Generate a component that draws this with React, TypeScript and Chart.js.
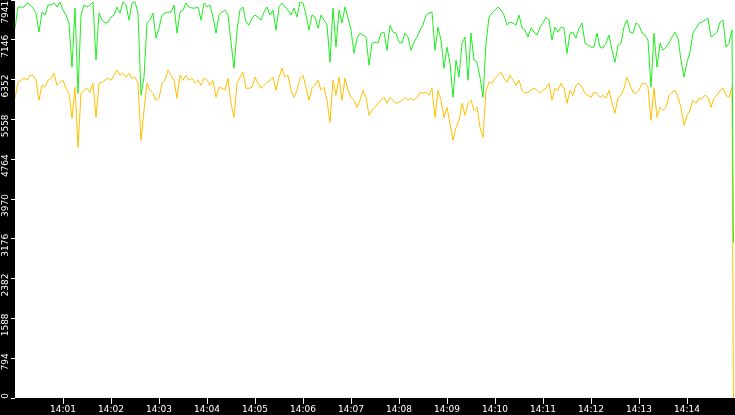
import React, { useEffect, useRef } from "react";
import { Chart, registerables } from "chart.js";

Chart.register(...registerables);

// Sampling grid (seconds after 14:00:00)
const sampleStepSeconds = 3.75;
const finalSampleSeconds = 898;

const xTickSeconds = [60, 120, 180, 240, 300, 360, 420, 480, 540, 600, 660, 720, 780, 840];
const xTickLabels = [
  "14:01", "14:02", "14:03", "14:04", "14:05", "14:06", "14:07",
  "14:08", "14:09", "14:10", "14:11", "14:12", "14:13", "14:14",
];

const yTickValues = [0, 794.1, 1588.2, 2382.3, 3176.4, 3970.5, 4764.6, 5558.7, 6352.8, 7146.9, 7941];
const yTickLabels = ["0", "794", "1588", "2382", "3176", "3970", "4764", "5558", "6352", "7146", "7941  "];

const greenValues = [
  7380, 7800, 7800, 7800, 7880, 7840, 7780, 7680, 7300, 7700, 7640, 7840, 7840, 7880, 7800, 7900, 7740, 7640, 7480, 6600, 7780, 6080, 7640, 7840, 7800, 7840, 7900, 6740, 7680, 7540,
  7480, 7500, 7600, 7640, 7800, 7680, 7900, 7840, 7540, 7880, 7900, 7680, 6040, 6400, 7480, 7540, 7680, 7180, 7380, 7640, 7680, 7700, 7700, 7840, 7280, 7700, 7740, 7880, 7800, 7780,
  7780, 7800, 7540, 7880, 7800, 7840, 7600, 7280, 7640, 7700, 7740, 7640, 7100, 6580, 7340, 7740, 7800, 7500, 7440, 7580, 7640, 7600, 7540, 7700, 7800, 7640, 7740, 7340, 7800, 7880,
  7800, 7740, 7640, 7780, 7600, 7900, 7880, 7640, 7340, 7640, 7600, 7380, 7640, 7540, 7440, 6700, 7780, 7000, 7740, 7480, 7800, 7580, 7340, 6880, 7180, 7280, 7240, 7200, 6640, 7080,
  7100, 7080, 7280, 7300, 6940, 7440, 7300, 7280, 7100, 7080, 7280, 7200, 6940, 7100, 7200, 7340, 7440, 7640, 7680, 7700, 6940, 7400, 7140, 6580, 7000, 6680, 6000, 6740, 6400, 7080,
  7200, 6340, 7280, 6740, 6700, 6400, 6000, 7080, 7600, 7680, 7740, 7800, 7740, 7640, 7440, 7500, 7480, 7440, 7640, 7380, 7340, 7200, 7380, 7300, 7240, 7400, 7480, 7600, 7540, 7140,
  7400, 7300, 7400, 7380, 6880, 7280, 7300, 7180, 7380, 7480, 7080, 7040, 7000, 7000, 7280, 7000, 6980, 7080, 7240, 6940, 6700, 7040, 7080, 7400, 7540, 7300, 7280, 7480, 7440, 7280,
  7240, 7140, 6200, 7280, 6600, 7080, 6940, 7000, 7080, 7200, 7300, 7180, 6740, 6400, 6700, 6900, 7280, 7380, 7480, 7500, 7540, 7580, 7200, 7240, 7300, 7500, 7540, 7000, 7080, 7340,
  3100,
];

const orangeValues = [
  5980, 6300, 6340, 6380, 6340, 6440, 6440, 6340, 5940, 6240, 6200, 6340, 6380, 6480, 6240, 6300, 6340, 6180, 6080, 5580, 6200, 5000, 6080, 6140, 6180, 6100, 6280, 5600, 6280, 6300,
  6340, 6380, 6340, 6440, 6540, 6440, 6480, 6400, 6480, 6380, 6400, 6280, 5140, 5740, 6280, 6140, 6080, 5940, 5980, 6280, 6340, 6540, 6440, 6340, 5980, 6440, 6340, 6440, 6340, 6380,
  6280, 6340, 6240, 6380, 6340, 6240, 6340, 6000, 6200, 6180, 6140, 6380, 5880, 5600, 6280, 6400, 6500, 6180, 6180, 6200, 6400, 6280, 6180, 6240, 6300, 6340, 6400, 6140, 6400, 6580,
  6400, 6440, 6140, 6000, 6140, 6380, 6440, 6200, 5940, 6180, 6240, 6340, 6140, 6200, 5940, 5500, 6340, 6040, 6400, 5940, 6380, 6140, 6000, 5940, 5800, 5940, 6140, 6000, 5640, 5740,
  5800, 5880, 5940, 6000, 5880, 6000, 5940, 5880, 5900, 5940, 6000, 5940, 5980, 5940, 6000, 6100, 6080, 6100, 6040, 6180, 5600, 6140, 5940, 5600, 5800, 5480, 5140, 5400, 5540, 5880,
  5640, 5880, 5940, 5740, 5800, 5400, 5200, 6140, 6300, 6280, 6380, 6440, 6500, 6380, 6300, 6440, 6340, 6240, 6340, 6140, 6080, 6100, 6140, 6180, 6140, 6080, 6140, 6180, 6280, 5940,
  6180, 6140, 6280, 6180, 5880, 6140, 6040, 6240, 6280, 6200, 6080, 6040, 6000, 6100, 6080, 6000, 6040, 5980, 6140, 5880, 5680, 6000, 6040, 6180, 6400, 6240, 6100, 6080, 6140, 6280,
  6280, 6200, 5540, 6180, 5600, 5800, 5740, 5800, 6040, 6100, 6140, 6000, 5800, 5440, 5640, 5740, 5940, 5880, 5980, 5980, 6040, 6000, 5800, 5980, 6040, 6140, 6180, 6040, 6000, 6200,
  0,
];

function toPoints(values: number[]) {
  return values.map((v, i) => ({
    x: i === values.length - 1 ? finalSampleSeconds : i * sampleStepSeconds,
    y: v,
  }));
}

const plotBackground = {
  id: "plotBackground",
  beforeDraw(chart: any) {
    const { ctx, chartArea } = chart;
    ctx.save();
    ctx.fillStyle = "#ffffff";
    ctx.fillRect(chartArea.left, chartArea.top, chartArea.right - chartArea.left, chartArea.bottom - chartArea.top);
    ctx.restore();
  },
};

const tickFont = { family: "'DejaVu Sans', sans-serif", size: 9 };

export default function App() {
  const canvasRef = useRef<HTMLCanvasElement | null>(null);

  useEffect(() => {
    if (!canvasRef.current) return;
    const chart = new Chart(canvasRef.current, {
      type: "line",
      data: {
        datasets: [
          {
            data: toPoints(greenValues),
            borderColor: "#1eee1e",
            borderWidth: 1,
            pointRadius: 0,
            tension: 0,
            fill: false,
          },
          {
            data: toPoints(orangeValues),
            borderColor: "#ffc000",
            borderWidth: 1,
            pointRadius: 0,
            tension: 0,
            fill: false,
          },
        ],
      },
      options: {
        animation: false,
        responsive: false,
        maintainAspectRatio: false,
        devicePixelRatio: 1,
        layout: { padding: 0 },
        plugins: { legend: { display: false }, tooltip: { enabled: false } },
        scales: {
          x: {
            type: "linear",
            min: 0,
            max: 900,
            afterBuildTicks: (s: any) => {
              s.ticks = xTickSeconds.map((v) => ({ value: v }));
            },
            afterFit: (s: any) => {
              s.height = 17;
              s.paddingLeft = 0;
              s.paddingRight = 0;
            },
            ticks: {
              autoSkip: false,
              minRotation: 0,
              maxRotation: 0,
              color: "#ffffff",
              font: tickFont,
              padding: 0,
              callback: (_v: any, i: number) => xTickLabels[i],
            },
            grid: { drawOnChartArea: false, drawTicks: true, tickLength: 6, color: "#ffffff" },
            border: { display: false },
          },
          y: {
            type: "linear",
            min: 0,
            max: 7941,
            afterBuildTicks: (s: any) => {
              s.ticks = yTickValues.map((v) => ({ value: v }));
            },
            afterFit: (s: any) => {
              s.width = 15;
              s.paddingTop = 0;
              s.paddingBottom = 0;
            },
            ticks: {
              autoSkip: false,
              minRotation: 90,
              maxRotation: 90,
              color: "#ffffff",
              font: tickFont,
              padding: 5,
              labelOffset: -5,
              callback: (_v: any, i: number) => yTickLabels[i],
            },
            grid: { drawOnChartArea: false, drawTicks: true, tickLength: 4, color: "#ffffff" },
            border: { display: false },
          },
        },
      },
      plugins: [plotBackground],
    });
    return () => chart.destroy();
  }, []);

  return (
    <div style={{ position: "fixed", left: 0, top: 0, width: 735, height: 415, background: "#000000" }}>
      <canvas ref={canvasRef} width={735} height={415} style={{ display: "block" }} />
    </div>
  );
}
